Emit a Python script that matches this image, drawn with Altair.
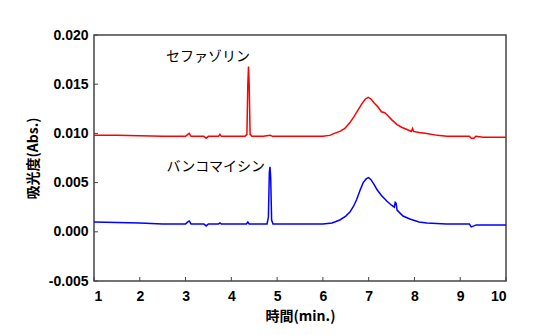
import altair as alt
import pandas as pd

# Cefazolin (red) trace
cef_x = [1.0, 1.5, 2.0, 2.5, 3.0, 3.05, 3.08, 3.12, 3.40, 3.45, 3.50, 3.72, 3.75, 3.78,
         4.30, 4.34, 4.36, 4.375, 4.39, 4.41, 4.45, 4.7, 4.85, 4.9, 5.5, 6.0, 6.15, 6.25,
         6.37, 6.48, 6.59, 6.68, 6.77, 6.85, 6.93, 6.99, 7.05, 7.12, 7.2, 7.28, 7.35, 7.40,
         7.5, 7.62, 7.73, 7.84, 7.93, 7.96, 7.98, 8.1, 8.27, 8.5, 8.71, 9.2, 9.24, 9.3,
         9.34, 9.5, 10.0]
cef_y = [0.0098, 0.0098, 0.00975, 0.0097, 0.0097, 0.0099, 0.0100, 0.0097, 0.0097, 0.0095,
         0.0097, 0.0097, 0.0099, 0.0097, 0.0097, 0.0099, 0.0150, 0.0168, 0.0150, 0.0099,
         0.0097, 0.0097, 0.0098, 0.0097, 0.0097, 0.0097, 0.0098, 0.0100, 0.0102, 0.0105,
         0.0111, 0.0117, 0.0124, 0.0130, 0.0135, 0.01367, 0.0135, 0.0131, 0.0127, 0.0122,
         0.0121, 0.0119, 0.0114, 0.0109, 0.0106, 0.0104, 0.0102, 0.0105, 0.0102, 0.0101,
         0.0100, 0.0098, 0.0097, 0.0097, 0.0095, 0.0095, 0.0097, 0.0096, 0.0096]

# Vancomycin (blue) trace
van_x = [1.0, 1.5, 2.0, 2.5, 3.0, 3.05, 3.08, 3.12, 3.40, 3.45, 3.50, 3.72, 3.75, 3.78,
         4.33, 4.36, 4.39, 4.78, 4.81, 4.83, 4.845, 4.86, 4.88, 4.91, 5.2, 5.5, 6.0, 6.2,
         6.37, 6.5, 6.59, 6.67, 6.74, 6.81, 6.88, 6.95, 7.0, 7.05, 7.12, 7.18, 7.28, 7.40,
         7.5, 7.56, 7.58, 7.60, 7.62, 7.75, 7.90, 8.1, 8.27, 8.7, 9.2, 9.24, 9.3, 9.35, 10.0]
van_y = [0.00100, 0.00095, 0.0009, 0.0008, 0.0008, 0.0010, 0.0011, 0.0008, 0.0008, 0.0006,
         0.0008, 0.0008, 0.0009, 0.0008, 0.0008, 0.0010, 0.0008, 0.0008, 0.0015, 0.0060,
         0.0066, 0.0055, 0.0012, 0.0008, 0.0008, 0.0008, 0.0008, 0.0009, 0.0012, 0.0016,
         0.0020, 0.0026, 0.0033, 0.0042, 0.0050, 0.0054, 0.0055, 0.0053, 0.0048, 0.0043,
         0.0037, 0.0031, 0.0027, 0.0025, 0.0030, 0.0029, 0.0022, 0.0016, 0.0013, 0.0010,
         0.0009, 0.0008, 0.0008, 0.0005, 0.0006, 0.0007, 0.0007]

label_text = ["セファゾリン", "バンコマイシン"]
label_x = [3.49, 3.66]
label_y = [0.0178, 0.0066]

x_ticks = [1, 2, 3, 4, 5, 6, 7, 8, 9, 10]
y_ticks = [-0.005, 0.0, 0.005, 0.010, 0.015, 0.020]

W, H = 412, 246

df = pd.concat([
    pd.DataFrame({"t": cef_x, "a": cef_y, "s": "cef"}),
    pd.DataFrame({"t": van_x, "a": van_y, "s": "van"}),
])

xs = alt.Scale(domain=[1, 10], nice=False, zero=False)
ys = alt.Scale(domain=[-0.005, 0.020], nice=False, zero=False)

lines = alt.Chart(df).mark_line(strokeWidth=1.5, interpolate="linear").encode(
    x=alt.X("t:Q", scale=xs, axis=alt.Axis(
        title="時間(min.)", values=x_ticks, format="d", grid=False, domain=False,
        ticks=False, labelPadding=8, titlePadding=6, labelFontSize=14,
        labelFont="Liberation Sans", labelFontWeight="bold", labelColor="#000",
        titleFont="Noto Sans CJK JP", titleFontSize=14, titleFontWeight="bold",
        titleColor="#000")),
    y=alt.Y("a:Q", scale=ys, axis=alt.Axis(
        title="吸光度(Abs.)", values=y_ticks, grid=False, domain=False, ticks=False,
        labelExpr="replace(format(datum.value, '.3f'), '\u2212', '-')",
        labelPadding=6, labelFontSize=14, labelFont="Liberation Sans",
        labelFontWeight="bold", labelColor="#000", titleFont="Noto Sans CJK JP",
        titleFontSize=14, titleFontWeight="bold", titleColor="#000", titlePadding=8)),
    color=alt.Color("s:N", scale=alt.Scale(domain=["cef", "van"], range=["#ff0000", "#0000ff"]),
                    legend=None),
    detail="s:N",
)

xt = alt.Chart(pd.DataFrame({"v": x_ticks})).mark_rule(color="#444", strokeWidth=1).encode(
    x=alt.X("v:Q", scale=xs), y=alt.value(H), y2=alt.value(H - 4))
yt = alt.Chart(pd.DataFrame({"v": y_ticks})).mark_rule(color="#444", strokeWidth=1).encode(
    y=alt.Y("v:Q", scale=ys), x=alt.value(0), x2=alt.value(4))

texts = alt.Chart(pd.DataFrame({"l": label_text, "x": label_x, "y": label_y})).mark_text(
    font="Noto Sans CJK JP", fontSize=14, color="#000", align="center", baseline="middle"
).encode(x=alt.X("x:Q", scale=xs), y=alt.Y("y:Q", scale=ys), text="l:N")

chart = alt.layer(lines, xt, yt, texts).properties(
    width=W, height=H,
    autosize=alt.AutoSizeParams(type="none"),
    padding={"left": 94, "top": 35, "right": 35, "bottom": 54},
    background="white",
).configure_view(stroke="#444", strokeWidth=1.5)

chart.save("out.html", embed_options={"renderer": "svg", "actions": False})
